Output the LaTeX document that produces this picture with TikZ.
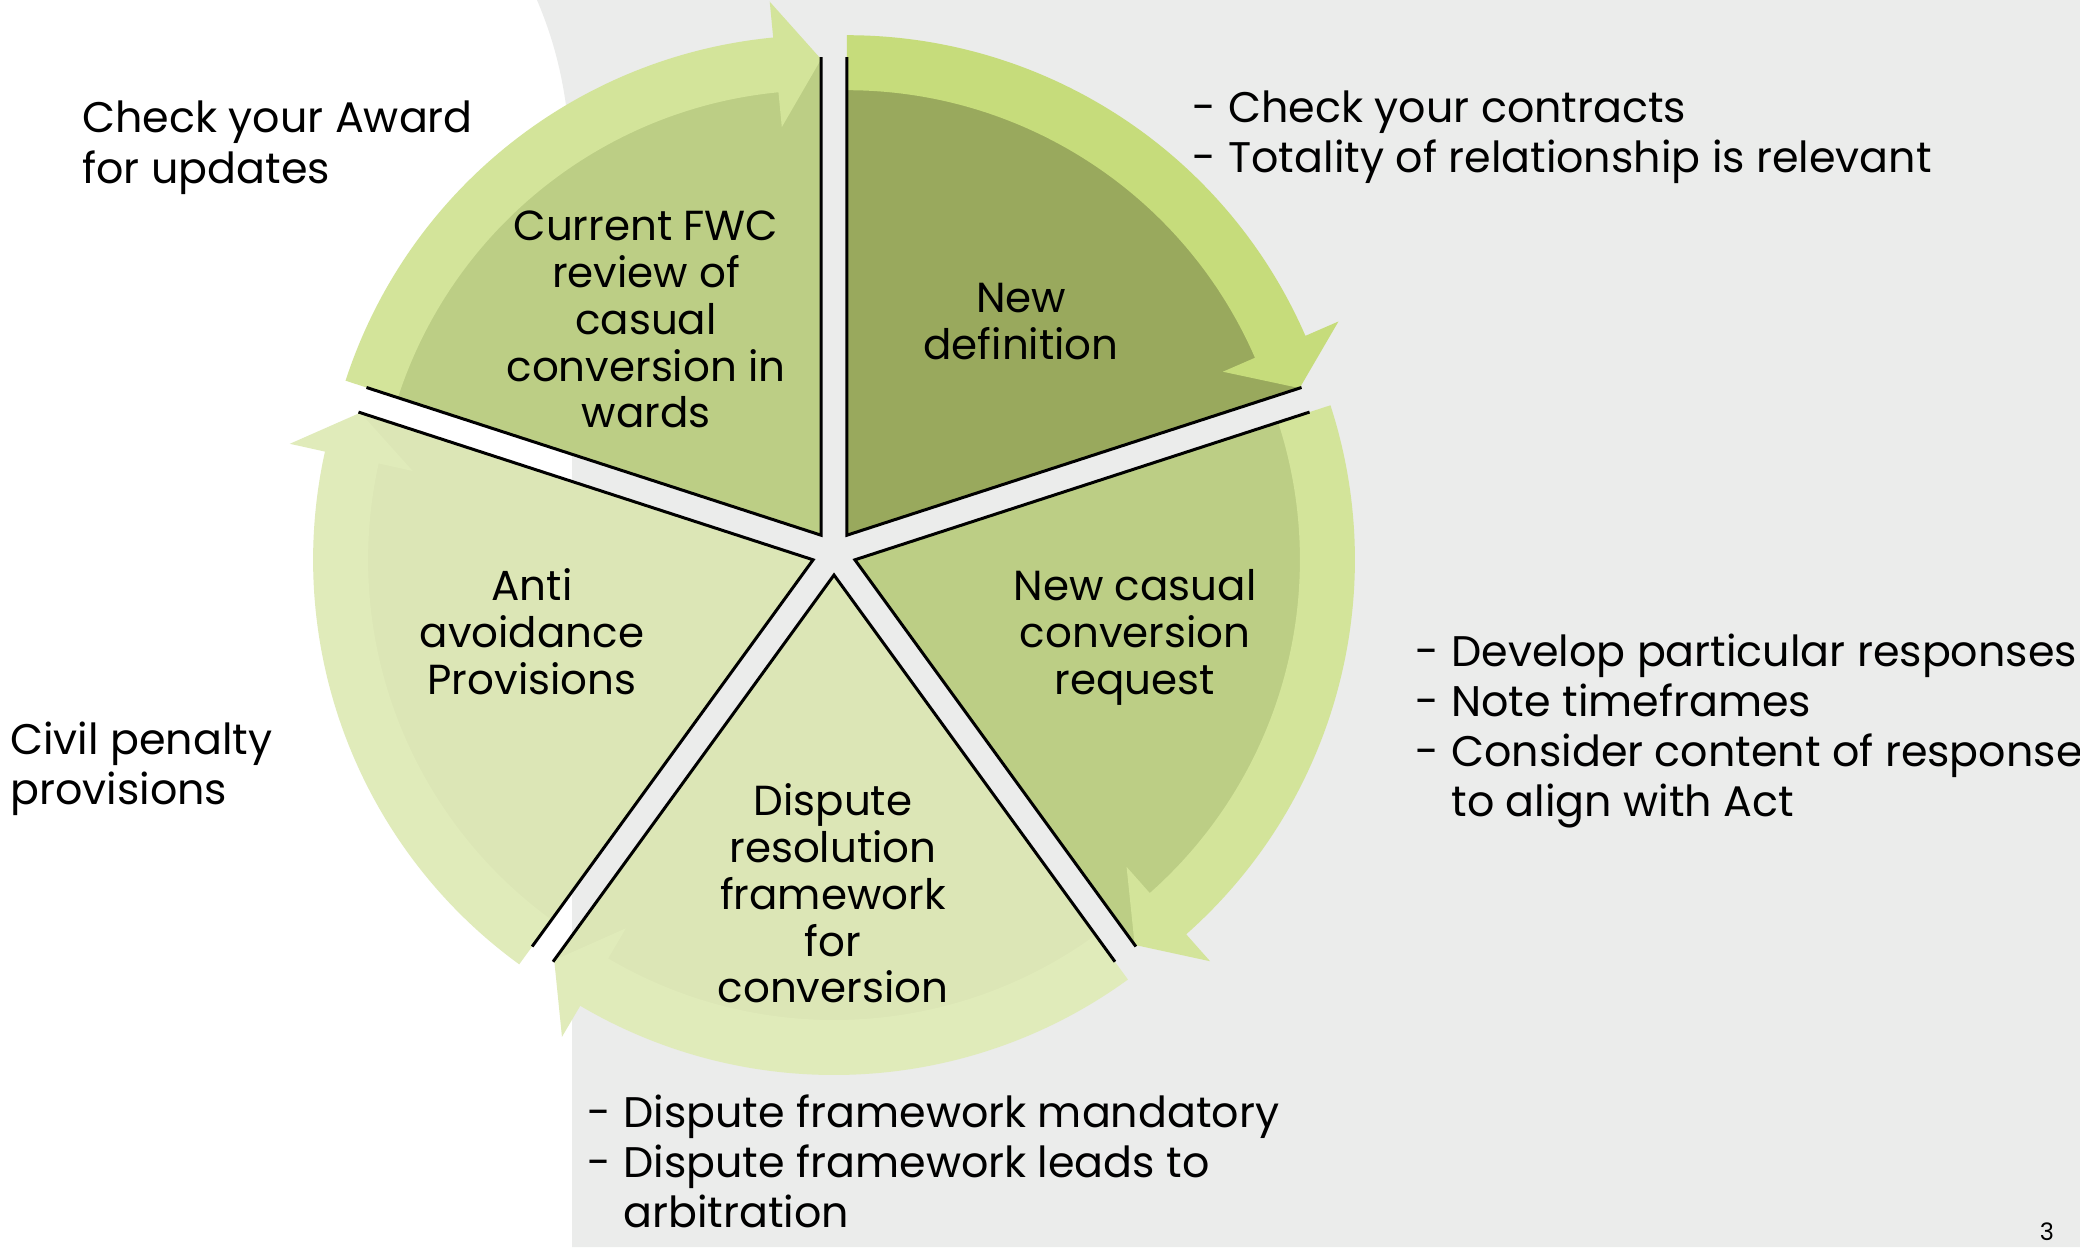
\documentclass[tikz,border=0pt]{standalone}
\usepackage{fontspec}
\setmainfont{Poppins}
\definecolor{bggrey}{HTML}{EBECEB}
\definecolor{secdark}{HTML}{99A95D}
\definecolor{secmid}{HTML}{BCCE85}
\definecolor{seclight}{HTML}{DCE6B6}
\definecolor{banddark}{HTML}{C6DC7B}
\definecolor{bandmid}{HTML}{D3E49A}
\definecolor{bandlight}{HTML}{E0EBBA}
\tikzset{
  edgeline/.style={line width=1.5pt, line join=miter, draw=black},
  seglabel/.style={inner sep=0pt, align=center, font=\fontsize{21pt}{23.4pt}\selectfont},
  sidenote/.style={inner sep=0pt, align=left, anchor=west, font=\fontsize{21.4pt}{25pt}\selectfont},
}
% #1 apex x, #2 apex y (pixels, downwards), #3 start angle, #4 sector colour, #5 band colour
\newcommand\cyclepart[5]{%
  \begin{scope}[shift={(#1,-#2)}]
    \fill[#4] (0,0) -- (#3:478) arc[start angle=#3, end angle=#3-72, radius=478] -- cycle;
    \fill[#5] (#3:500) arc[start angle=#3, end angle=#3-66.5, radius=500]
      -- (#3-66.5:536) -- (#3-72:476) -- (#3-66.5:410) -- (#3-66.5:445)
      arc[start angle=#3-66.5, end angle=#3, radius=445] -- cycle;
  \end{scope}}
\newcommand\cycleedge[3]{%
  \begin{scope}[shift={(#1,-#2)}]
    \draw[edgeline] (#3:478) -- (0,0) -- (#3-72:478);
  \end{scope}}
\newcommand\dashitem{\makebox[18pt][l]{-}}
\begin{document}
\begin{tikzpicture}[x=0.5pt, y=0.5pt]
\useasboundingbox (0,0) rectangle (2080,-1247);
\clip (0,0) rectangle (2080,-1247);
\fill[white] (0,0) rectangle (2080,-1247);
\fill[bggrey] (537,0) .. controls (556,-45) and (572,-100) .. (572,-200) -- (572,-1247) -- (2080,-1247) -- (2080,0) -- cycle;

\cyclepart{846.9}{535.2}{90}{secdark}{banddark}
\cyclepart{854.9}{559.8}{18}{secmid}{bandmid}
\cyclepart{834}{575}{306}{seclight}{bandlight}
\cyclepart{813.1}{559.8}{234}{seclight}{bandlight}
\cyclepart{821.1}{535.2}{162}{secmid}{bandmid}

\cycleedge{846.9}{535.2}{90}
\cycleedge{854.9}{559.8}{18}
\cycleedge{834}{575}{306}
\cycleedge{813.1}{559.8}{234}
\cycleedge{821.1}{535.2}{162}

\node[seglabel] (fwc) at (646,-325) {\strut Current FWC\\review of\\casual\\conversion in\\wards\strut};
\node[seglabel] (def) at (1021,-327) {\strut New\\definition\strut};
\node[seglabel] (req) at (1135,-638) {\strut New casual\\conversion\\request\strut};
\node[seglabel] (anti) at (532,-638) {\strut Anti\\avoidance\\Provisions\strut};
\node[seglabel] (disp) at (833,-900) {\strut Dispute\\resolution\\framework\\for\\conversion\strut};

\node[sidenote] (award) at (82,-148) {\strut Check your Award\\for updates\strut};
\node[sidenote] (contracts) at (1192,-137) {\strut\dashitem Check your contracts\\\dashitem Totality of relationship is relevant\strut};
\node[sidenote] (develop) at (1415,-731) {\strut\dashitem Develop particular responses\\\dashitem Note timeframes\\\dashitem Consider content of response\\\hspace*{18pt}to align with Act\strut};
\node[sidenote] (civil) at (10,-769) {\strut Civil penalty\\provisions\strut};
\node[sidenote] (framework) at (587,-1160) {\strut\dashitem Dispute framework mandatory\\\dashitem Dispute framework leads to\\\hspace*{18pt}arbitration};
\node[inner sep=0pt, anchor=base, font=\fontsize{12pt}{14pt}\selectfont] (page) at (2047,-1240) {3};
\end{tikzpicture}
\end{document}
